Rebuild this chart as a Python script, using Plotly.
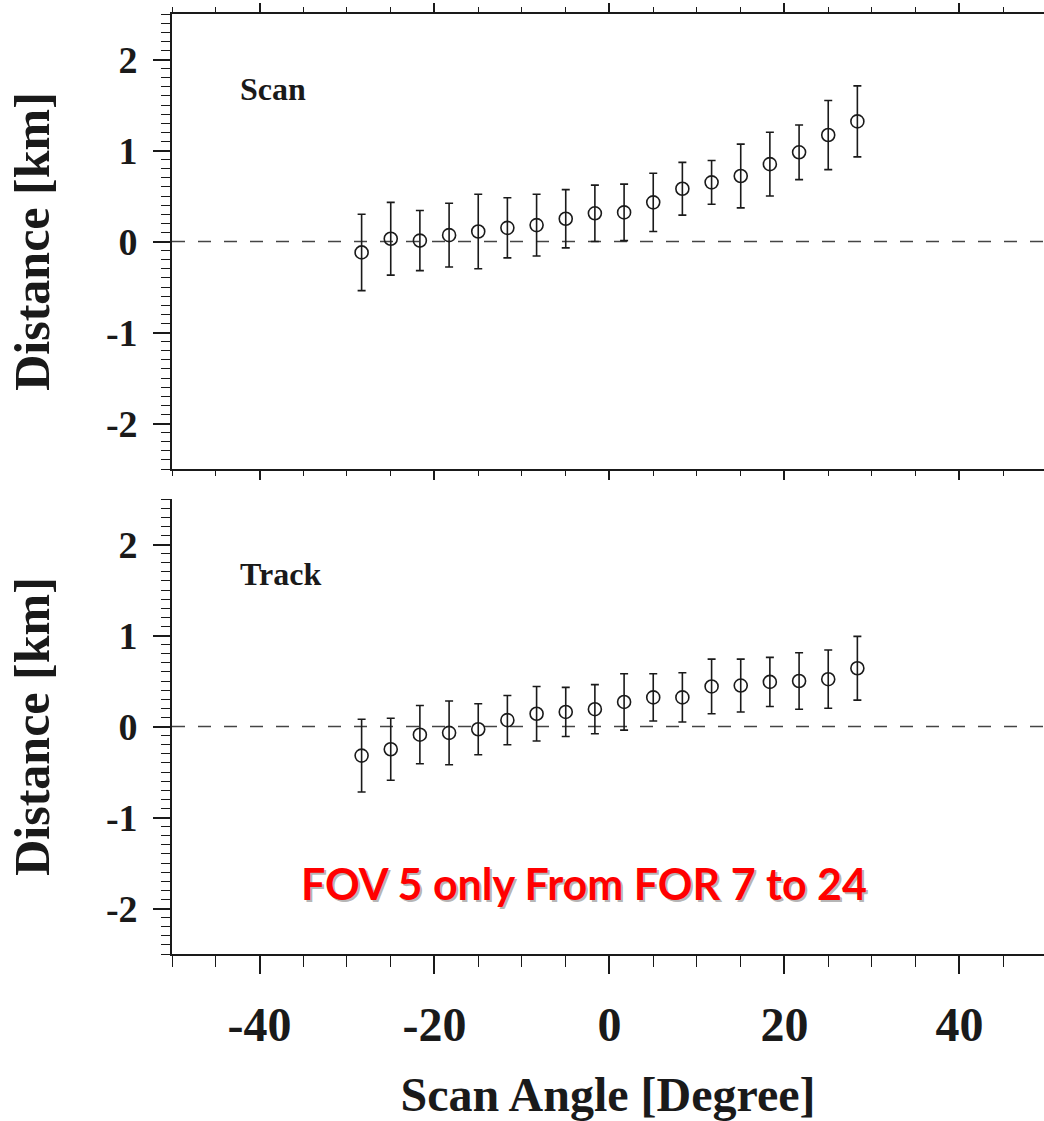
import plotly.graph_objects as go

# Scan angle of each field of regard (FOR 7 .. 24), degrees
scan_angle = [-28.33, -25.0, -21.67, -18.33, -15.0, -11.67, -8.33, -5.0, -1.67,
              1.67, 5.0, 8.33, 11.67, 15.0, 18.33, 21.67, 25.0, 28.33]

# Mean geolocation distance along scan direction [km] and its spread
scan_dist = [-0.12, 0.03, 0.01, 0.07, 0.11, 0.15, 0.18, 0.25, 0.31,
             0.32, 0.43, 0.58, 0.65, 0.72, 0.85, 0.98, 1.17, 1.32]
scan_err = [0.42, 0.40, 0.33, 0.35, 0.41, 0.33, 0.34, 0.32, 0.31,
            0.31, 0.32, 0.29, 0.24, 0.35, 0.35, 0.30, 0.38, 0.39]

# Mean geolocation distance along track direction [km] and its spread
track_dist = [-0.32, -0.25, -0.09, -0.07, -0.03, 0.07, 0.14, 0.16, 0.19,
              0.27, 0.32, 0.32, 0.44, 0.45, 0.49, 0.50, 0.52, 0.64]
track_err = [0.40, 0.34, 0.32, 0.35, 0.28, 0.27, 0.30, 0.27, 0.27,
             0.31, 0.26, 0.27, 0.30, 0.29, 0.27, 0.31, 0.32, 0.35]

x_tick_vals = [-40, -20, 0, 20, 40]
x_tick_text = ["-40", "-20", "0", "20", "40"]
y_tick_vals = [-2, -1, 0, 1, 2]
y_tick_text = ["-2", "-1", "0", "1", "2"]

panel_labels = ["Scan", "Track"]
note_text = "FOV 5 only From FOR 7 to 24"

INK = "#1a1a1a"
SERIF = "Liberation Serif"

fig = go.Figure()


def add_panel(xref, yref, dist, err):
    fig.add_trace(go.Scatter(
        x=scan_angle, y=dist, xaxis=xref, yaxis=yref,
        mode="markers",
        marker=dict(symbol="circle-open", size=13, color=INK,
                    line=dict(width=1.6, color=INK)),
        error_y=dict(type="data", array=err, symmetric=True,
                     thickness=1.6, width=4, color=INK),
        showlegend=False, hoverinfo="skip",
    ))


add_panel("x", "y", scan_dist, scan_err)
add_panel("x2", "y2", track_dist, track_err)

# dashed zero reference in both panels
for xr, yr in (("x", "y"), ("x2", "y2")):
    fig.add_shape(type="line", xref=f"{xr} domain", yref=yr,
                  x0=0, x1=1, y0=0, y1=0,
                  line=dict(color="#444444", width=1.6, dash="13px,13px"),
                  layer="below")

x_range = [-50, 49.66]
y_range = [-2.5, 2.5]

common_x = dict(range=x_range, showline=True, linecolor=INK, linewidth=1.6,
                ticks="outside", tickcolor=INK, tickwidth=1.5,
                tickvals=x_tick_vals, ticktext=x_tick_text,
                showgrid=False, zeroline=False, fixedrange=True)
common_y = dict(range=y_range, showline=True, linecolor=INK, linewidth=1.6,
                ticks="outside", tickcolor=INK, tickwidth=1.5, ticklen=17,
                tickvals=y_tick_vals, ticktext=y_tick_text,
                minor=dict(dtick=0.1, tick0=0, ticklen=9, ticks="outside",
                           tickcolor=INK, tickwidth=1.3),
                tickfont=dict(family=SERIF, size=38, color=INK, weight="bold"),
                ticklabelstandoff=8,
                title=dict(text="Distance [km]", standoff=40,
                           font=dict(family=SERIF, size=50, color=INK, weight="bold")),
                showgrid=False, zeroline=False, fixedrange=True, mirror=False)

top_dom = [485 / 940, 1.0]
bot_dom = [0.0, 455 / 940]

fig.update_layout(
    width=1044, height=1121,
    margin=dict(l=172, r=0, t=14, b=167, autoexpand=False),
    paper_bgcolor="white", plot_bgcolor="white",
    xaxis=dict(common_x, anchor="y", domain=[0, 1], ticklen=9,
               mirror="allticks", showticklabels=False,
               minor=dict(dtick=5, tick0=0, ticklen=5, ticks="outside",
                          tickcolor=INK, tickwidth=1.3)),
    yaxis=dict(common_y, anchor="x", domain=top_dom),
    xaxis2=dict(common_x, anchor="y2", domain=[0, 1], ticklen=18,
                minor=dict(dtick=5, tick0=0, ticklen=11, ticks="outside",
                           tickcolor=INK, tickwidth=1.3),
                tickfont=dict(family=SERIF, size=48, color=INK, weight="bold"),
                ticklabelstandoff=10,
                title=dict(text="Scan Angle [Degree]", standoff=28,
                           font=dict(family=SERIF, size=48, color=INK, weight="bold"))),
    xaxis3=dict(common_x, anchor="y2", overlaying="x2", side="top", ticklen=9,
                showticklabels=False,
                minor=dict(dtick=5, tick0=0, ticklen=5, ticks="outside",
                           tickcolor=INK, tickwidth=1.3)),
    yaxis2=dict(common_y, anchor="x2", domain=bot_dom),
)

# panel labels
for label, xr, yr in zip(panel_labels, ("x", "x2"), ("y", "y2")):
    fig.add_annotation(text=label, xref=f"{xr} domain", yref=f"{yr} domain",
                       x=0.076, y=0.835, xanchor="left", yanchor="middle",
                       showarrow=False,
                       font=dict(family=SERIF, size=32, color=INK, weight="bold"))

# red note with a soft drop shadow
fig.add_annotation(text=note_text, xref="x2 domain", yref="y2 domain",
                   x=0.4725, y=0.154, xanchor="center", yanchor="middle",
                   xshift=2, yshift=-2, showarrow=False,
                   font=dict(family="Lato", size=43, color="rgba(90,90,90,0.45)",
                             weight="bold"))
fig.add_annotation(text=note_text, xref="x2 domain", yref="y2 domain",
                   x=0.4725, y=0.154, xanchor="center", yanchor="middle",
                   showarrow=False,
                   font=dict(family="Lato", size=43, color="#ff0000", weight="bold"))

fig.write_html("out.html")
